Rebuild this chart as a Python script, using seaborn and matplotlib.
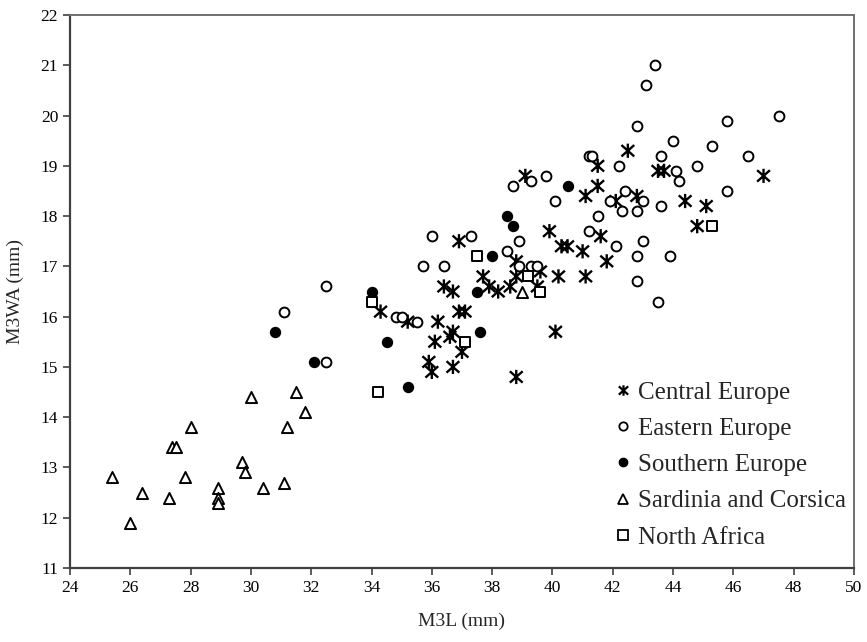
"""
Scatter of M3 width vs length for five regional groups.
"""
import matplotlib
matplotlib.use("Agg")
import matplotlib.pyplot as plt
from matplotlib.path import Path
from matplotlib.lines import Line2D
import seaborn as sns

# ── data ─────────────────────────────────────────────────────────────────────
CENTRAL_X = [39.1, 39.9, 40.3, 40.5, 36.9, 38.8, 38.8, 39.6, 40.2, 37.7,
             37.9, 38.2, 38.6, 39.5, 36.4, 36.7, 34.3, 36.9, 37.1, 36.2,
             35.2, 36.1, 36.6, 36.7, 37.0, 35.9, 36.0, 36.7, 38.8, 40.1,
             41.5, 42.5, 41.5, 41.1, 42.1, 42.8, 43.5, 43.7, 44.4, 45.1,
             44.8, 47.0, 41.6, 41.0, 41.8, 41.1]
CENTRAL_Y = [18.8, 17.7, 17.4, 17.4, 17.5, 17.1, 16.8, 16.9, 16.8, 16.8,
             16.6, 16.5, 16.6, 16.6, 16.6, 16.5, 16.1, 16.1, 16.1, 15.9,
             15.9, 15.5, 15.6, 15.7, 15.3, 15.1, 14.9, 15.0, 14.8, 15.7,
             19.0, 19.3, 18.6, 18.4, 18.3, 18.4, 18.9, 18.9, 18.3, 18.2,
             17.8, 18.8, 17.6, 17.3, 17.1, 16.8]

EASTERN_X = [31.1, 32.5, 32.5, 34.8, 35.0, 35.5, 36.0, 35.7, 36.4, 37.3,
             38.5, 38.9, 38.7, 39.3, 39.8, 40.1, 38.9, 39.3, 39.5, 43.4,
             43.1, 42.8, 47.5, 45.8, 44.0, 45.3, 46.5, 41.2, 41.3, 43.6,
             42.2, 44.8, 44.1, 44.2, 45.8, 42.4, 41.9, 43.0, 42.3, 42.8,
             43.6, 41.5, 41.2, 43.0, 42.1, 42.8, 43.9, 42.8, 43.5]
EASTERN_Y = [16.1, 16.6, 15.1, 16.0, 16.0, 15.9, 17.6, 17.0, 17.0, 17.6,
             17.3, 17.5, 18.6, 18.7, 18.8, 18.3, 17.0, 17.0, 17.0, 21.0,
             20.6, 19.8, 20.0, 19.9, 19.5, 19.4, 19.2, 19.2, 19.2, 19.2,
             19.0, 19.0, 18.9, 18.7, 18.5, 18.5, 18.3, 18.3, 18.1, 18.1,
             18.2, 18.0, 17.7, 17.5, 17.4, 17.2, 17.2, 16.7, 16.3]

SOUTHERN_X = [30.8, 32.1, 34.0, 34.5, 35.2, 37.6, 37.5, 38.0, 38.5, 38.7, 40.5]
SOUTHERN_Y = [15.7, 15.1, 16.5, 15.5, 14.6, 15.7, 16.5, 17.2, 18.0, 17.8, 18.6]

SARDINIA_X = [25.4, 26.0, 26.4, 27.3, 27.4, 27.5, 27.8, 28.0, 28.9, 28.9,
              28.9, 29.7, 29.8, 30.0, 30.4, 31.1, 31.2, 31.5, 31.8, 39.0]
SARDINIA_Y = [12.8, 11.9, 12.5, 12.4, 13.4, 13.4, 12.8, 13.8, 12.6, 12.4,
              12.3, 13.1, 12.9, 14.4, 12.6, 12.7, 13.8, 14.5, 14.1, 16.5]

AFRICA_X = [34.0, 34.2, 37.5, 39.2, 39.6, 37.1, 45.3]
AFRICA_Y = [16.3, 14.5, 17.2, 16.8, 16.5, 15.5, 17.8]

GROUPS = ["Central Europe", "Eastern Europe", "Southern Europe",
          "Sardinia and Corsica", "North Africa"]

X_TICKS = list(range(24, 51, 2))
Y_TICKS = list(range(11, 23))

# six-armed asterisk: an X plus a vertical bar
ASTERISK = Path(
    [(0, -1), (0, 1), (-0.9, -0.8), (0.9, 0.8), (-0.9, 0.8), (0.9, -0.8)],
    [Path.MOVETO, Path.LINETO, Path.MOVETO, Path.LINETO, Path.MOVETO, Path.LINETO],
)

sns.set_theme(style="ticks")
plt.rcParams["font.family"] = ["Liberation Serif", "DejaVu Serif"]

fig = plt.figure(figsize=(8.67, 6.42), dpi=100)
ax = fig.add_axes([0.0807, 0.1153, 0.9043, 0.8613])

LW = 1.4
sns.scatterplot(x=CENTRAL_X, y=CENTRAL_Y, marker=ASTERISK, s=105,
                facecolor="none", edgecolor="black", linewidth=1.7, ax=ax)
sns.scatterplot(x=EASTERN_X, y=EASTERN_Y, marker="o", s=50,
                facecolor="white", edgecolor="black", linewidth=LW, ax=ax)
sns.scatterplot(x=SOUTHERN_X, y=SOUTHERN_Y, marker="o", s=46,
                facecolor="black", edgecolor="black", linewidth=LW, ax=ax)
sns.scatterplot(x=SARDINIA_X, y=SARDINIA_Y, marker="^", s=64,
                facecolor="white", edgecolor="black", linewidth=LW, ax=ax)
sns.scatterplot(x=AFRICA_X, y=AFRICA_Y, marker="s", s=54,
                facecolor="white", edgecolor="black", linewidth=LW, ax=ax)

ax.set_xlim(24, 50)
ax.set_ylim(11, 22)
ax.set_xticks(X_TICKS)
ax.set_yticks(Y_TICKS)
ax.tick_params(axis="both", labelsize=12.5, length=5, width=1.2,
               color="#404040", direction="out", labelcolor="black")
ax.set_xlabel("M3L (mm)", fontsize=14, labelpad=12)
ax.set_ylabel("M3WA (mm)", fontsize=14, labelpad=12)

for side in ["left", "bottom"]:
    ax.spines[side].set_color("#404040")
    ax.spines[side].set_linewidth(1.6)
for side in ["top", "right"]:
    ax.spines[side].set_visible(True)
    ax.spines[side].set_color("#707070")
    ax.spines[side].set_linewidth(1.4)

# legend with small handles, no frame
handles = [
    Line2D([], [], linestyle="none", marker=ASTERISK, markersize=7.5,
           markerfacecolor="none", markeredgecolor="black", markeredgewidth=1.6),
    Line2D([], [], linestyle="none", marker="o", markersize=6,
           markerfacecolor="white", markeredgecolor="black", markeredgewidth=1.3),
    Line2D([], [], linestyle="none", marker="o", markersize=6,
           markerfacecolor="black", markeredgecolor="black"),
    Line2D([], [], linestyle="none", marker="^", markersize=7,
           markerfacecolor="white", markeredgecolor="black", markeredgewidth=1.3),
    Line2D([], [], linestyle="none", marker="s", markersize=7,
           markerfacecolor="white", markeredgecolor="black", markeredgewidth=1.3),
]
ax.legend(handles, GROUPS, loc="lower right", bbox_to_anchor=(0.99, 0.035),
          frameon=False, fontsize=18, handlelength=0.5, handletextpad=0.35,
          labelspacing=0.55, borderaxespad=0, borderpad=0)

fig.savefig("out.png", dpi=100)
